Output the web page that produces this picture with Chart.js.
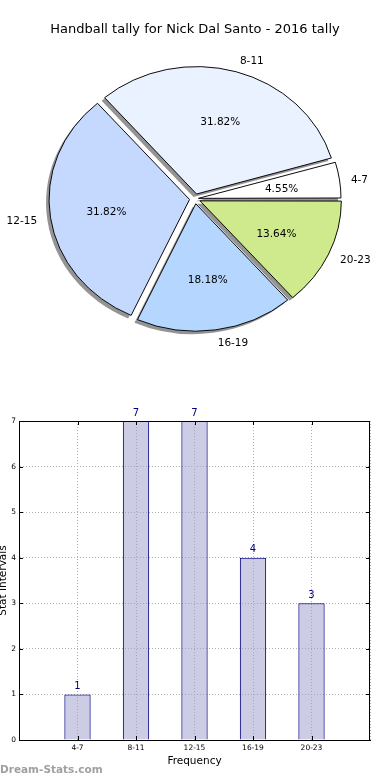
<!DOCTYPE html>
<html>
<head>
<meta charset="utf-8">
<script src="https://cdn.jsdelivr.net/npm/chart.js@4.4.1/dist/chart.umd.min.js"></script>
<style>
  html, body { margin: 0; padding: 0; background: #fff; }
  body { width: 390px; height: 780px; position: relative; overflow: hidden; font-family: 'DejaVu Sans', sans-serif; }
  #caixa-pizza { position: absolute; left: 0; top: 0; width: 390px; height: 360px; }
  #caixa-barras { position: absolute; left: 0; top: 360px; width: 390px; height: 420px; }
  .marca { position: absolute; left: 0; top: 763px; font-size: 10.5px; font-weight: bold; color: #a0a0a0; font-family: 'DejaVu Sans', sans-serif; }
</style>
</head>
<body>
<div id="caixa-pizza"><canvas id="graficoPizza"></canvas></div>
<div id="caixa-barras"><canvas id="graficoBarras"></canvas></div>
<div class="marca">Dream-Stats.com</div>
<script>
// Dados do gráfico
const titulo = 'Handball tally for Nick Dal Santo - 2016 tally';
const categorias = ['4-7', '8-11', '12-15', '16-19', '20-23'];
const frequencias = [1, 7, 7, 4, 3];
const coresFatias = ['#ffffff', '#eaf1ff', '#c5d9ff', '#b4d6ff', '#cfea8c'];
const ticksY = [0, 1, 2, 3, 4, 5, 6, 7];

const FONTE = "'DejaVu Sans', sans-serif";
const ESCALA_Y = 0.907; // a pizza original é levemente achatada
// offset do Chart.js (a fatia anda offset/4); a fatia pequena cresce mais, por isso menos
const deslocamentos = [14, 22, 22, 22, 22];

// Chart.js desenha no sentido horário, então inverte a ordem
const rotulosPizza = categorias.slice().reverse();
const valoresPizza = frequencias.slice().reverse();
const coresPizza = coresFatias.slice().reverse();
const deslocPizza = deslocamentos.slice().reverse();
const total = frequencias.reduce((a, b) => a + b, 0);

// Achata a pizza e desenha a sombra antes das fatias
const pluginElipse = {
  id: 'elipse',
  beforeDatasetsDraw(chart) {
    const ctx = chart.ctx;
    const arcos = chart.getDatasetMeta(0).data;
    const { x, y } = arcos[0];
    ctx.save();
    ctx.translate(x, y);
    ctx.scale(1, ESCALA_Y);
    ctx.translate(-x, -y);
    // sombra: cópia cinza de cada fatia, para baixo e para a esquerda
    ctx.save();
    ctx.translate(-3, 3 / ESCALA_Y);
    arcos.forEach((arco) => {
      const original = arco.options;
      arco.options = Object.assign({}, original, { backgroundColor: 'rgba(60,60,60,0.55)', borderWidth: 0 });
      arco.draw(ctx);
      arco.options = original;
    });
    ctx.restore();
  },
  afterDatasetsDraw(chart) {
    chart.ctx.restore();
    desenharRotulos(chart);
  }
};

// Rótulos das categorias (fora) e percentuais (dentro)
function desenharRotulos(chart) {
  const ctx = chart.ctx;
  const arcos = chart.getDatasetMeta(0).data;
  ctx.save();
  ctx.font = '10.5px ' + FONTE;
  ctx.fillStyle = '#000';
  ctx.textBaseline = 'middle';
  arcos.forEach((arco, i) => {
    const meio = (arco.startAngle + arco.endAngle) / 2;
    const r = arco.outerRadius;
    const desl = deslocPizza[i] / 4;
    const cos = Math.cos(meio);
    const sin = Math.sin(meio);
    const ponto = (dist) => ({ x: arco.x + cos * dist, y: arco.y + sin * dist * ESCALA_Y + 1.5 });
    const externo = ponto(desl + 1.1 * r);
    ctx.textAlign = cos >= 0 ? 'left' : 'right';
    ctx.fillText(rotulosPizza[i], externo.x, externo.y);
    const interno = ponto(desl + 0.6 * r);
    ctx.textAlign = 'center';
    ctx.fillText((valoresPizza[i] / total * 100).toFixed(2) + '%', interno.x, interno.y);
  });
  ctx.restore();
}

new Chart(document.getElementById('graficoPizza'), {
  type: 'pie',
  data: {
    labels: rotulosPizza,
    datasets: [
      {
        data: valoresPizza,
        backgroundColor: coresPizza,
        borderColor: '#000',
        borderWidth: 1,
        offset: deslocPizza,
        clip: false
      }
    ]
  },
  options: {
    animation: false,
    responsive: true,
    maintainAspectRatio: false,
    rotation: 90,
    radius: 140,
    events: [],
    plugins: {
      legend: { display: false },
      tooltip: { enabled: false },
      title: {
        display: true,
        text: titulo,
        color: '#000',
        font: { family: FONTE, size: 13, weight: 'normal' },
        padding: { top: 22, bottom: 0 }
      }
    }
  },
  plugins: [pluginElipse]
});

// Barras: uma posição vazia em cada ponta, como no eixo original
const rotulosX = [''].concat(categorias, ['']);
const dadosBarras = [null].concat(frequencias, [null]);

// Valores acima das barras, moldura e marcas internas
const pluginMoldura = {
  id: 'moldura',
  afterDatasetsDraw(chart) {
    const ctx = chart.ctx;
    const area = chart.chartArea;
    const meta = chart.getDatasetMeta(0);
    ctx.save();
    ctx.font = '10px ' + FONTE;
    ctx.fillStyle = '#000080';
    ctx.textAlign = 'center';
    ctx.textBaseline = 'bottom';
    meta.data.forEach((barra, i) => {
      const v = dadosBarras[i];
      if (v == null) return;
      ctx.fillText(String(v), barra.x, barra.y - 3);
    });
    ctx.strokeStyle = '#000';
    ctx.lineWidth = 1;
    ctx.beginPath();
    ticksY.forEach((t) => {
      const y = Math.round(chart.scales.y.getPixelForValue(t)) + 0.5;
      ctx.moveTo(area.left, y);
      ctx.lineTo(area.left + 4, y);
      ctx.moveTo(area.right, y);
      ctx.lineTo(area.right - 4, y);
    });
    categorias.forEach((c, i) => {
      const x = Math.round(chart.scales.x.getPixelForValue(i + 1)) + 0.5;
      ctx.moveTo(x, area.bottom);
      ctx.lineTo(x, area.bottom - 4);
      ctx.moveTo(x, area.top);
      ctx.lineTo(x, area.top + 4);
    });
    ctx.stroke();
    ctx.strokeRect(Math.round(area.left) + 0.5, Math.round(area.top) + 0.5,
      Math.round(area.right - area.left) - 1, Math.round(area.bottom - area.top));
    ctx.restore();
  }
};

new Chart(document.getElementById('graficoBarras'), {
  type: 'bar',
  data: {
    labels: rotulosX,
    datasets: [
      {
        data: dadosBarras,
        backgroundColor: 'rgba(153,153,204,0.5)',
        borderColor: '#000080',
        borderWidth: 1,
        categoryPercentage: 1,
        barPercentage: 0.45
      }
    ]
  },
  options: {
    animation: false,
    responsive: true,
    maintainAspectRatio: false,
    events: [],
    layout: { padding: { top: 61, right: 20, left: 0, bottom: 0 } },
    plugins: {
      legend: { display: false },
      tooltip: { enabled: false }
    },
    scales: {
      x: {
        offset: false,
        grid: { offset: false, color: '#b0b0b0', drawTicks: false },
        border: { display: true, color: '#000', dash: [1, 2] },
        ticks: { autoSkip: false, maxRotation: 0, padding: 4, color: '#000', font: { family: FONTE, size: 7.5 } },
        title: { display: true, text: 'Frequency', color: '#000', font: { family: FONTE, size: 10.5 }, padding: { top: 0, bottom: 12 } },
        afterFit(escala) {
          escala.height = 40;
        }
      },
      y: {
        min: 0,
        max: 7,
        grid: { color: '#b0b0b0', drawTicks: false },
        border: { display: true, color: '#000', dash: [1, 2] },
        ticks: { stepSize: 1, padding: 3, color: '#000', font: { family: FONTE, size: 7.5 } },
        title: { display: true, text: 'Stat Intervals', color: '#000', font: { family: FONTE, size: 10.5, lineHeight: 1 }, padding: { top: -2, bottom: 0 } },
        afterFit(escala) {
          escala.width = 19;
        }
      }
    }
  },
  plugins: [pluginMoldura]
});
</script>
</body>
</html>
